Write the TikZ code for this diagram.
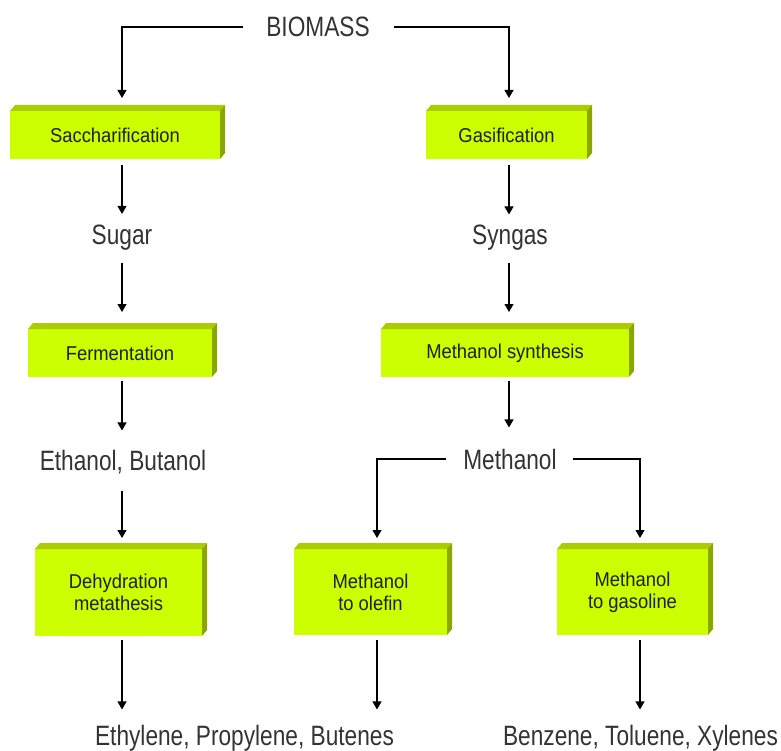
\documentclass[tikz,border=0pt]{standalone}
\usepackage{fontspec}
\setmainfont{Liberation Sans}
\newfontfamily\chemfont[FakeStretch=0.81]{Liberation Sans}
\newfontfamily\procfont[FakeStretch=0.92]{Liberation Sans}
\usetikzlibrary{arrows.meta}
\definecolor{boxfront}{HTML}{CCFF00}
\definecolor{boxtop}{HTML}{AACC00}
\definecolor{boxside}{HTML}{8CA600}
\definecolor{chemgray}{HTML}{333333}
\newcommand{\bevelfaces}[1]{%
  \fill[boxtop] (#1.north west) -- ([shift={(5,-6)}]#1.north west) -- ([shift={(5,-6)}]#1.north east) -- (#1.north east) -- cycle;
  \fill[boxside] (#1.north east) -- ([shift={(5,-6)}]#1.north east) -- ([shift={(5,-6)}]#1.south east) -- (#1.south east) -- cycle;}
\begin{document}
\begin{tikzpicture}[x=1pt, y=-1pt, line width=1.1pt, >={Triangle[width=9pt,length=8pt]},
    chem/.style={font=\chemfont\fontsize{28pt}{30pt}\selectfont, text=chemgray, anchor=base, inner sep=0pt, text height=20pt, text depth=0pt},
    procbox/.style={fill=boxfront, font=\procfont\fontsize{20pt}{22pt}\selectfont, text=black!88, align=center, inner sep=0pt, outer sep=0pt}]
    \useasboundingbox (0,0) rectangle (781,751);
    \coordinate (colL)  at (122,0);
    \coordinate (colM)  at (377,0);
    \coordinate (colR)  at (509,0);
    \coordinate (colRR) at (640,0);
    \node (biomass)   [chem] at (318,37) {BIOMASS};
    \node (sacch)     [procbox, minimum width=210pt, minimum height=48pt] at (115,135) {Saccharification};
    \node (gasif)     [procbox, minimum width=161pt, minimum height=48pt] at (506.5,135) {Gasification};
    \node (sugar)     [chem] at (122,244.5) {Sugar};
    \node (syngas)    [chem] at (510,244) {Syngas};
    \node (ferm)      [procbox, minimum width=184pt, minimum height=48pt] at (120,353) {Fermentation};
    \node (methsyn)   [procbox, minimum width=248pt, minimum height=48pt] at (505,353) {Methanol synthesis};
    \node (alcohols)  [chem] at (123,470) {Ethanol, Butanol};
    \node (methanol)  [chem] at (510,469) {Methanol};
    \node (dehyd)     [procbox, minimum width=167pt, minimum height=87pt] at (118.5,592.5) {Dehydration\\metathesis};
    \node (mto)       [procbox, minimum width=153pt, minimum height=86pt] at (370.5,592) {Methanol\\to olefin};
    \node (mtg)       [procbox, minimum width=151pt, minimum height=86pt] at (632.5,592) {Methanol\\to gasoline};
    \node (olefins)   [chem] at (244.5,745) {Ethylene, Propylene, Butenes};
    \node (aromatics) [chem] at (640.5,745) {Benzene, Toluene, Xylenes};
    \bevelfaces{sacch}
    \bevelfaces{gasif}
    \bevelfaces{ferm}
    \bevelfaces{methsyn}
    \bevelfaces{dehyd}
    \bevelfaces{mto}
    \bevelfaces{mtg}
    \draw[->, shorten <=23pt, shorten >=13pt] (biomass.west) -| (sacch.north -| colL);
    \draw[->, shorten <=24pt, shorten >=13pt] (biomass.east) -| (gasif.north -| colR);
    \draw[->, shorten <=6pt, shorten >=10pt] (sacch.south -| colL) -- (sugar.north -| colL);
    \draw[->, shorten <=6pt, shorten >=9pt]  (gasif.south -| colR) -- (syngas.north -| colR);
    \draw[->, shorten <=17.5pt, shorten >=17pt] (sugar.south -| colL) -- (ferm.north -| colL);
    \draw[->, shorten <=18pt, shorten >=17pt]   (syngas.south -| colR) -- (methsyn.north -| colR);
    \draw[->, shorten <=4pt, shorten >=19pt] (ferm.south -| colL) -- (alcohols.north -| colL);
    \draw[->, shorten <=4pt, shorten >=21pt] (methsyn.south -| colR) -- (methanol.north -| colR);
    \draw[->, shorten <=20pt, shorten >=11pt] (alcohols.south -| colL) -- (dehyd.north -| colL);
    \draw[->, shorten <=17pt, shorten >=11pt] (methanol.west) -| (mto.north -| colM);
    \draw[->, shorten <=16pt, shorten >=11pt] (methanol.east) -| (mtg.north -| colRR);
    \draw[->, shorten <=4pt, shorten >=15pt] (dehyd.south -| colL) -- (olefins.north -| colL);
    \draw[->, shorten <=5pt, shorten >=15pt] (mto.south -| colM) -- (olefins.north -| colM);
    \draw[->, shorten <=5pt, shorten >=15pt] (mtg.south -| colRR) -- (aromatics.north -| colRR);
\end{tikzpicture}
\end{document}
